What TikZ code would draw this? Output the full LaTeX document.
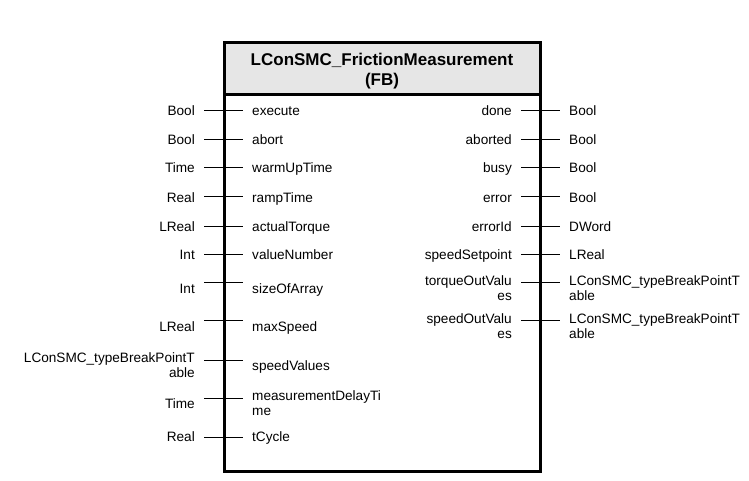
\documentclass[tikz,border=0pt]{standalone}
\usepackage{fontspec}
\setmainfont{Liberation Sans}
\definecolor{titlegray}{RGB}{230,230,230}
\tikzset{
  lbl/.style={inner sep=0pt, font=\fontsize{13.6}{15}\selectfont},
  ttl/.style={inner sep=0pt, anchor=base, font=\fontsize{17}{19}\selectfont\bfseries},
  stub/.style={line width=1pt},
  frame/.style={line width=3pt}
}
\begin{document}
\begin{tikzpicture}[x=1pt,y=-1pt]
\useasboundingbox (0,0) rectangle (749,481);
% box
\coordinate (bTL) at (224,43);
\coordinate (bBR) at (540,471);
\coordinate (sepL) at (224,95);
\coordinate (sepR) at (540,95);
\fill[titlegray] (bTL) rectangle (sepR);
\draw[frame] (sepL) -- (sepR);
\draw[frame] (bTL) rectangle (bBR);
\node[ttl] (t1) at (382,66) {LConSMC\_FrictionMeasurement};
\node[ttl] (t2) at (382,85.5) {(FB)};
% left stubs
\foreach \i/\y in {1/111,2/140,3/168,4/197,5/226,6/254,7/282,8/320,9/360,10/398,11/437}{
  \coordinate (inA\i) at (204,\y);
  \coordinate (inB\i) at (243,\y);
  \draw[stub] (inA\i) -- (inB\i);
}
% right stubs
\foreach \i/\y in {1/111,2/140,3/168,4/197,5/226,6/254,7/282,8/320}{
  \coordinate (outA\i) at (521,\y);
  \coordinate (outB\i) at (560,\y);
  \draw[stub] (outA\i) -- (outB\i);
}
% left types
\node[lbl,anchor=base east] (lt1) at (195,116) {Bool};
\node[lbl,anchor=base east] (lt2) at (195,145) {Bool};
\node[lbl,anchor=base east] (lt3) at (195,173) {Time};
\node[lbl,anchor=base east] (lt4) at (195,202) {Real};
\node[lbl,anchor=base east] (lt5) at (195,231) {LReal};
\node[lbl,anchor=base east] (lt6) at (195,259) {Int};
\node[lbl,anchor=base east] (lt7) at (195,293) {Int};
\node[lbl,anchor=base east] (lt8) at (195,331) {LReal};
\node[lbl,anchor=base east] (lt9a) at (195,362) {LConSMC\_typeBreakPointT};
\node[lbl,anchor=base east] (lt9b) at (195,377) {able};
\node[lbl,anchor=base east] (lt10) at (195,408) {Time};
\node[lbl,anchor=base east] (lt11) at (195,441.5) {Real};
% left pin names
\node[lbl,anchor=base west] (ln1) at (252,116) {execute};
\node[lbl,anchor=base west] (ln2) at (252,145) {abort};
\node[lbl,anchor=base west] (ln3) at (252,173) {warmUpTime};
\node[lbl,anchor=base west] (ln4) at (252,202) {rampTime};
\node[lbl,anchor=base west] (ln5) at (252,231) {actualTorque};
\node[lbl,anchor=base west] (ln6) at (252,259) {valueNumber};
\node[lbl,anchor=base west] (ln7) at (252,293) {sizeOfArray};
\node[lbl,anchor=base west] (ln8) at (252,331) {maxSpeed};
\node[lbl,anchor=base west] (ln9) at (252,370) {speedValues};
\node[lbl,anchor=base west] (ln10a) at (252,400) {measurementDelayTi};
\node[lbl,anchor=base west] (ln10b) at (252,415) {me};
\node[lbl,anchor=base west] (ln11) at (252,441.5) {tCycle};
% right pin names
\node[lbl,anchor=base east] (rn1) at (512,116) {done};
\node[lbl,anchor=base east] (rn2) at (512,145) {aborted};
\node[lbl,anchor=base east] (rn3) at (512,173) {busy};
\node[lbl,anchor=base east] (rn4) at (512,202) {error};
\node[lbl,anchor=base east] (rn5) at (512,231) {errorId};
\node[lbl,anchor=base east] (rn6) at (512,259) {speedSetpoint};
\node[lbl,anchor=base east] (rn7a) at (512,285) {torqueOutValu};
\node[lbl,anchor=base east] (rn7b) at (512,300) {es};
\node[lbl,anchor=base east] (rn8a) at (512,323) {speedOutValu};
\node[lbl,anchor=base east] (rn8b) at (512,338) {es};
% right types
\node[lbl,anchor=base west] (rt1) at (569,116) {Bool};
\node[lbl,anchor=base west] (rt2) at (569,145) {Bool};
\node[lbl,anchor=base west] (rt3) at (569,173) {Bool};
\node[lbl,anchor=base west] (rt4) at (569,202) {Bool};
\node[lbl,anchor=base west] (rt5) at (569,231) {DWord};
\node[lbl,anchor=base west] (rt6) at (569,259) {LReal};
\node[lbl,anchor=base west] (rt7a) at (569,285) {LConSMC\_typeBreakPointT};
\node[lbl,anchor=base west] (rt7b) at (569,300) {able};
\node[lbl,anchor=base west] (rt8a) at (569,323) {LConSMC\_typeBreakPointT};
\node[lbl,anchor=base west] (rt8b) at (569,338) {able};
\end{tikzpicture}
\end{document}
